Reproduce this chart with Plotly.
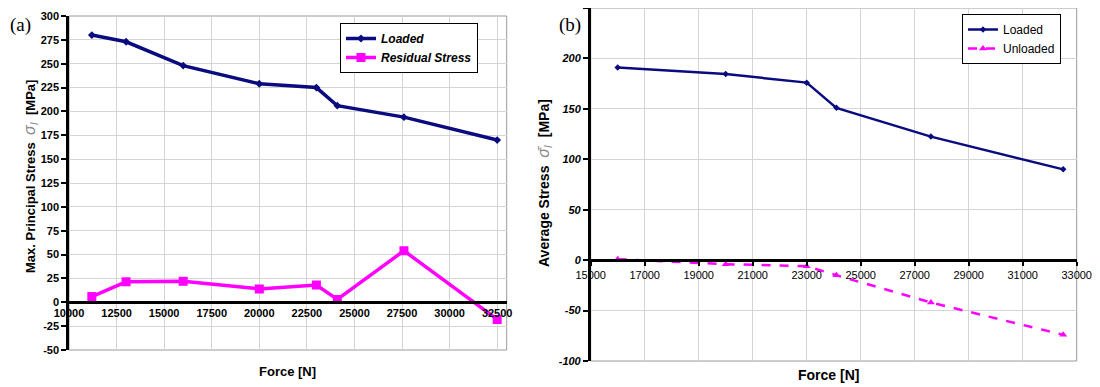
import plotly.graph_objects as go

# ---------------- data ----------------
force_a = [11200, 13000, 16000, 20000, 23000, 24100, 27600, 32500]
loaded_a = [280, 273, 248, 229, 225, 206, 194, 170]
residual_a = [6, 21.5, 22, 14, 18, 3, 54, -18]

force_b = [16000, 20000, 23000, 24100, 27600, 32500]
loaded_b = [191, 184.5, 176, 151, 122.5, 90]
unloaded_b = [1, -4, -6, -15, -42, -74]

xticks_a = [10000, 12500, 15000, 17500, 20000, 22500, 25000, 27500, 30000, 32500]
yticks_a = [-50, -25, 0, 25, 50, 75, 100, 125, 150, 175, 200, 225, 250, 275, 300]
xticks_b = [15000, 17000, 19000, 21000, 23000, 25000, 27000, 29000, 31000, 33000]
yticks_b = [-100, -50, 0, 50, 100, 150, 200, 250]

NAVY = "#0b0b80"
MAG = "#ff00ff"
FONT = "Liberation Sans, Arial, sans-serif"

# page is 1100x387, the figure sits inside the page body margin (8 px)
OFF = 8
W, H = 1100 - OFF, 387 - OFF


def px(x):
    return min(1.0, max(0.0, (x - OFF) / W))


def py(y):
    return min(1.0, max(0.0, 1 - (y - OFF) / H))


# plot-area geometry (page pixels)
ax_a = dict(x0=69, x1=506.7, y0=16, y1=350)
ax_b = dict(x0=590.7, x1=1076.7, y0=8, y1=361)
rng_xa, rng_ya = [10000, 33000], [-50, 300]
rng_xb, rng_yb = [15000, 33000], [-100, 250]


def dom(a):
    return [px(a["x0"]), px(a["x1"])], [py(a["y1"]), py(a["y0"])]


xd_a, yd_a = dom(ax_a)
xd_b, yd_b = dom(ax_b)


def zero_pos(yd, rng):
    return yd[0] + (0 - rng[0]) / (rng[1] - rng[0]) * (yd[1] - yd[0])


fig = go.Figure()

fig.add_trace(go.Scatter(x=force_a, y=loaded_a, name="Loaded", mode="lines+markers",
                         line=dict(color=NAVY, width=3.5),
                         marker=dict(symbol="diamond", size=6, color=NAVY),
                         xaxis="x", yaxis="y", legend="legend"))
fig.add_trace(go.Scatter(x=force_a, y=residual_a, name="Residual Stress", mode="lines+markers",
                         line=dict(color=MAG, width=3.5),
                         marker=dict(symbol="square", size=9, color=MAG),
                         xaxis="x", yaxis="y", legend="legend"))
fig.add_trace(go.Scatter(x=force_b, y=loaded_b, name="Loaded", mode="lines+markers",
                         line=dict(color=NAVY, width=2.5),
                         marker=dict(symbol="diamond", size=5, color=NAVY),
                         xaxis="x2", yaxis="y2", legend="legend2"))
fig.add_trace(go.Scatter(x=force_b, y=unloaded_b, name="Unloaded", mode="lines+markers",
                         line=dict(color=MAG, width=2.5, dash="dash"),
                         marker=dict(symbol="triangle-up", size=7, color=MAG),
                         xaxis="x2", yaxis="y2", legend="legend2"))

grid = "#d4d4d4"
fig.update_layout(
    width=W, height=H,
    margin=dict(l=0, r=0, t=0, b=0, autoexpand=False),
    paper_bgcolor="white", plot_bgcolor="white",
    font=dict(family=FONT, color="black"),
    xaxis=dict(domain=xd_a, range=rng_xa, anchor="free", position=zero_pos(yd_a, rng_ya),
               automargin=False,
               tickvals=xticks_a, ticktext=[str(v) for v in xticks_a],
               showgrid=True, gridcolor=grid, gridwidth=1, zeroline=False,
               showline=True, linecolor="black", linewidth=2.5,
               ticks="", tickfont=dict(size=11, weight="bold")),
    yaxis=dict(domain=yd_a, range=rng_ya, anchor="x", automargin=False,
               tickvals=yticks_a, ticktext=[str(v) for v in yticks_a],
               showgrid=True, gridcolor=grid, gridwidth=1, zeroline=False,
               showline=True, linecolor="black", linewidth=2.5,
               ticks="outside", ticklen=5, tickwidth=2, tickcolor="black",
               tickfont=dict(size=11, weight="bold")),
    xaxis2=dict(domain=xd_b, range=rng_xb, anchor="free", position=zero_pos(yd_b, rng_yb),
                automargin=False,
                tickvals=xticks_b, ticktext=[str(v) for v in xticks_b],
                showgrid=True, gridcolor=grid, gridwidth=1, zeroline=False,
                showline=True, linecolor="black", linewidth=2.5,
                ticks="outside", ticklen=4, tickwidth=2, tickcolor="black",
                tickfont=dict(size=11)),
    yaxis2=dict(domain=yd_b, range=rng_yb, anchor="x2", automargin=False,
                tickvals=yticks_b, ticktext=[str(v) for v in yticks_b],
                showgrid=True, gridcolor=grid, gridwidth=1, zeroline=False,
                showline=True, linecolor="black", linewidth=2.5,
                ticks="outside", ticklen=5, tickwidth=2, tickcolor="black",
                tickfont=dict(size=11, weight="bold", style="italic")),
    legend=dict(x=px(340), y=py(23), xanchor="left", yanchor="top",
                bordercolor="black", borderwidth=1, bgcolor="white",
                font=dict(size=12, weight="bold", style="italic"),
                tracegroupgap=2, itemwidth=30),
    legend2=dict(x=px(962), y=py(14), xanchor="left", yanchor="top",
                 bordercolor="black", borderwidth=1, bgcolor="white",
                 font=dict(size=12), tracegroupgap=2, itemwidth=30),
    showlegend=True,
)

# plot-area borders
for xr, yr in (("x domain", "y domain"), ("x2 domain", "y2 domain")):
    fig.add_shape(type="rect", xref=xr, yref=yr, x0=0, x1=1, y0=0, y1=1,
                  line=dict(color="#9a9a9a", width=1), layer="below")

SIG = "color:#8a8a8a;font-size:16px;font-weight:normal"
ann = []
ann.append(dict(text="(a)", x=px(8), y=py(25), xref="paper", yref="paper",
                xanchor="left", yanchor="middle", showarrow=False,
                font=dict(family="Liberation Serif, Times New Roman, serif", size=19)))
ann.append(dict(text="(b)", x=px(557), y=py(25), xref="paper", yref="paper",
                xanchor="left", yanchor="middle", showarrow=False,
                font=dict(family="Liberation Serif, Times New Roman, serif", size=19)))
ann.append(dict(text="Force [N]", x=px(287), y=py(371), xref="paper", yref="paper",
                xanchor="center", yanchor="middle", showarrow=False,
                font=dict(size=13, weight="bold")))
ann.append(dict(text="Force [N]", x=px(828), y=py(375), xref="paper", yref="paper",
                xanchor="center", yanchor="middle", showarrow=False,
                font=dict(size=14, weight="bold")))
ann.append(dict(text=f"Max. Principal Stress  <span style='{SIG}'><i>σ<sub>I</sub></i></span>  [MPa]",
                x=px(31), y=py(177), xref="paper", yref="paper", textangle=-90,
                xanchor="center", yanchor="middle", showarrow=False,
                font=dict(size=13, weight="bold")))
ann.append(dict(text=f"Average Stress  <span style='{SIG}'><i>σ̄<sub>I</sub></i></span>  [MPa]",
                x=px(545), y=py(183), xref="paper", yref="paper", textangle=-90,
                xanchor="center", yanchor="middle", showarrow=False,
                font=dict(size=14, weight="bold")))
fig.update_layout(annotations=ann)

fig.write_html("out.html")
